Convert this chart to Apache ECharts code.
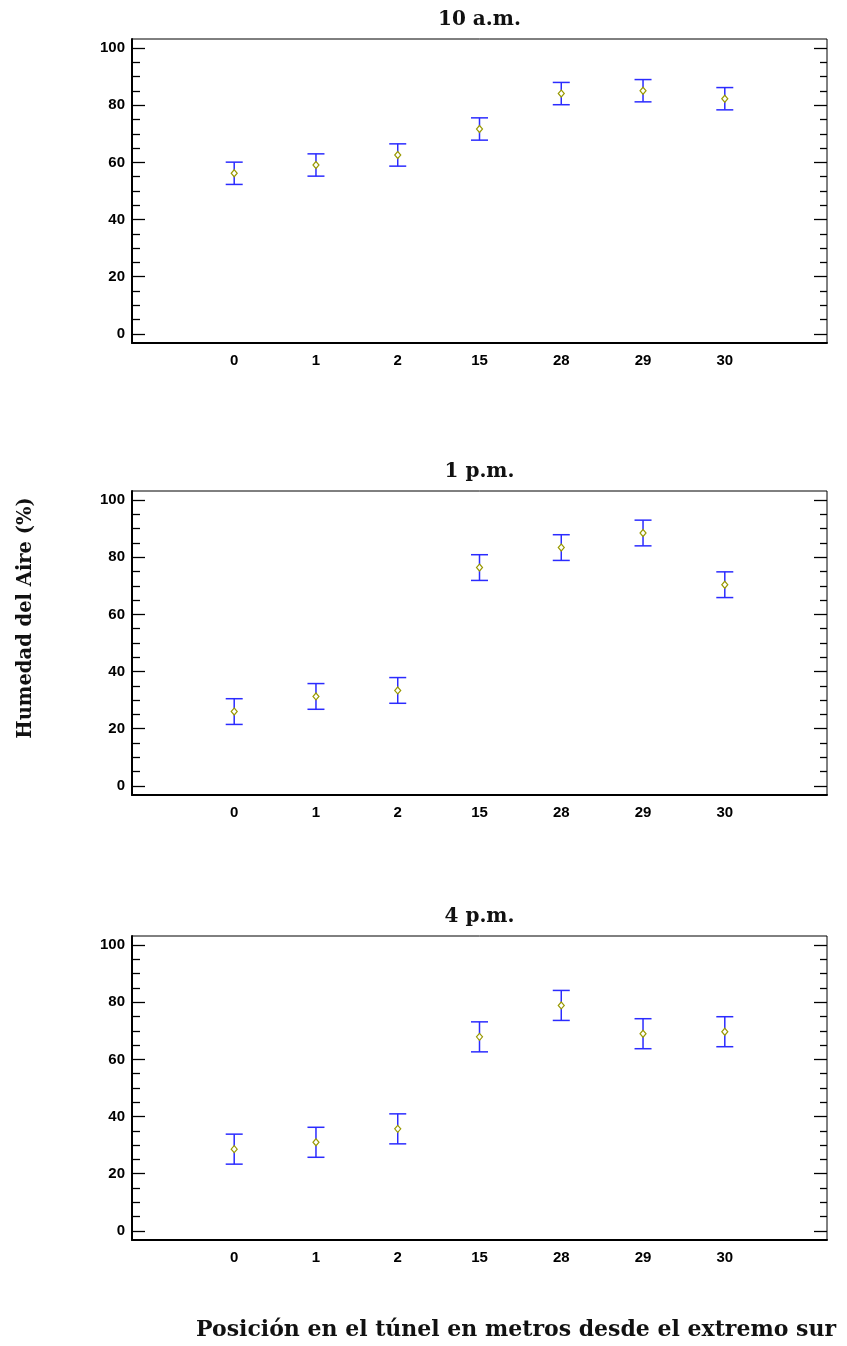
<!DOCTYPE html>
<html>
<head>
<meta charset="utf-8">
<title>Humedad del Aire</title>
<script src="https://cdn.jsdelivr.net/npm/echarts@6/dist/echarts.min.js"></script>
<style>
  html, body { margin: 0; padding: 0; background: #fff; }
  #chart { width: 847px; height: 1346px; }
</style>
</head>
<body>
<div id="chart"></div>
<script>
// Positions along the tunnel (metres from the south end)
const categories = ['0', '1', '2', '15', '28', '29', '30'];
const panelTitles = ['10 a.m.', '1 p.m.', '4 p.m.'];

// Mean air humidity (%) per position, one array per time of day
const means10am = [56.2, 59.1, 62.6, 71.7, 84.1, 85.1, 82.3];
const means1pm  = [26.0, 31.3, 33.4, 76.4, 83.4, 88.5, 70.4];
const means4pm  = [28.6, 31.0, 35.7, 67.9, 78.9, 69.0, 69.7];

// Half-width of each interval around the mean
const half10am = [3.9, 3.9, 3.9, 3.9, 3.9, 3.9, 3.9];
const half1pm  = [4.5, 4.5, 4.5, 4.5, 4.5, 4.5, 4.5];
const half4pm  = [5.25, 5.25, 5.25, 5.25, 5.25, 5.25, 5.25];

// Y-axis tick values
const majorTicks = [0, 20, 40, 60, 80, 100];
const minorTicks = [5, 10, 15, 25, 30, 35, 45, 50, 55, 65, 70, 75, 85, 90, 95];

const yTitle = 'Humedad del Aire (%)';
const xTitle = 'Posición en el túnel en metros desde el extremo sur';

const panels = [
  { title: panelTitles[0], means: means10am, half: half10am },
  { title: panelTitles[1], means: means1pm,  half: half1pm },
  { title: panelTitles[2], means: means4pm,  half: half4pm }
];

const gridLeft = 132, gridWidth = 695, gridHeight = 304;
const gridTops = [39, 491, 936];
const Y_MIN = -3.2, Y_MAX = 103.2;
const serifFont = '"DejaVu Serif", serif';
const tickFont = { fontFamily: '"Liberation Sans", Arial, sans-serif', fontWeight: 'bold', fontSize: 15, color: '#000' };

const grids = [], xAxes = [], yAxes = [], series = [], graphics = [];

panels.forEach((p, gi) => {
  grids.push({
    left: gridLeft, top: gridTops[gi], width: gridWidth, height: gridHeight,
    show: true, borderColor: '#000', borderWidth: 1, backgroundColor: '#fff'
  });

  xAxes.push({
    type: 'value', gridIndex: gi, min: -1.25, max: 7.25,
    axisLine: { show: true, onZero: false, lineStyle: { color: '#000', width: 2 } },
    axisTick: { show: false },
    splitLine: { show: false },
    axisLabel: {
      customValues: categories.map((c, i) => i),
      formatter: v => categories[Math.round(v)],
      margin: 10, ...tickFont
    }
  });

  const yBase = {
    type: 'value', gridIndex: gi, min: Y_MIN, max: Y_MAX,
    splitLine: { show: false }
  };
  const tickLine = { color: '#000', width: 1.3 };
  const firstY = yAxes.length;
  // left: major ticks with labels
  yAxes.push({
    ...yBase, position: 'left',
    axisLine: { show: true, onZero: false, lineStyle: { color: '#000', width: 2 } },
    axisTick: { show: true, inside: true, length: 13, customValues: majorTicks, lineStyle: tickLine },
    axisLabel: { customValues: majorTicks, margin: 7, ...tickFont }
  });
  // left: minor ticks
  yAxes.push({
    ...yBase, position: 'left',
    axisLine: { show: false, onZero: false },
    axisTick: { show: true, inside: true, length: 8, customValues: minorTicks, lineStyle: tickLine },
    axisLabel: { show: false }
  });
  // right: major ticks
  yAxes.push({
    ...yBase, position: 'right',
    axisLine: { show: false, onZero: false },
    axisTick: { show: true, inside: true, length: 13, customValues: majorTicks, lineStyle: tickLine },
    axisLabel: { show: false }
  });
  // right: minor ticks
  yAxes.push({
    ...yBase, position: 'right',
    axisLine: { show: false, onZero: false },
    axisTick: { show: true, inside: true, length: 7, customValues: minorTicks, lineStyle: tickLine },
    axisLabel: { show: false }
  });

  // interval bars
  series.push({
    type: 'custom', xAxisIndex: gi, yAxisIndex: firstY, z: 3,
    data: p.means.map((m, i) => [i, m - p.half[i], m + p.half[i]]),
    encode: { x: 0, y: [1, 2] },
    renderItem: (params, api) => {
      const x = api.value(0);
      const lo = api.coord([x, api.value(1)]);
      const hi = api.coord([x, api.value(2)]);
      const cap = 8.5;
      const style = { stroke: '#2b2bff', lineWidth: 1.5 };
      return {
        type: 'group',
        children: [
          { type: 'line', shape: { x1: lo[0], y1: lo[1], x2: hi[0], y2: hi[1] }, style },
          { type: 'line', shape: { x1: hi[0] - cap, y1: hi[1], x2: hi[0] + cap, y2: hi[1] }, style },
          { type: 'line', shape: { x1: lo[0] - cap, y1: lo[1], x2: lo[0] + cap, y2: lo[1] }, style }
        ]
      };
    }
  });

  // means
  series.push({
    type: 'scatter', xAxisIndex: gi, yAxisIndex: firstY, z: 4,
    symbol: 'diamond', symbolSize: [6, 7],
    itemStyle: { color: '#ffffff', borderColor: '#999900', borderWidth: 1.2, opacity: 1 },
    data: p.means.map((m, i) => [i, m])
  });

  // panel title
  graphics.push({
    type: 'text', x: gridLeft + gridWidth / 2, y: gridTops[gi] - 19,
    style: { text: p.title, font: 'bold 20px ' + serifFont, fill: '#111', align: 'center', verticalAlign: 'middle' }
  });
});

graphics.push({
  type: 'text', x: 26, y: 618, rotation: Math.PI / 2,
  style: { text: yTitle, font: 'bold 19.5px ' + serifFont, fill: '#111', align: 'center', verticalAlign: 'middle' }
});
graphics.push({
  type: 'text', x: 516, y: 1330,
  style: { text: xTitle, font: 'bold 22px ' + serifFont, fill: '#111', align: 'center', verticalAlign: 'middle' }
});

const chart = echarts.init(document.getElementById('chart'), null, { renderer: 'canvas' });
chart.setOption({
  animation: false,
  backgroundColor: '#fff',
  grid: grids,
  xAxis: xAxes,
  yAxis: yAxes,
  series: series,
  graphic: graphics
});
</script>
</body>
</html>
